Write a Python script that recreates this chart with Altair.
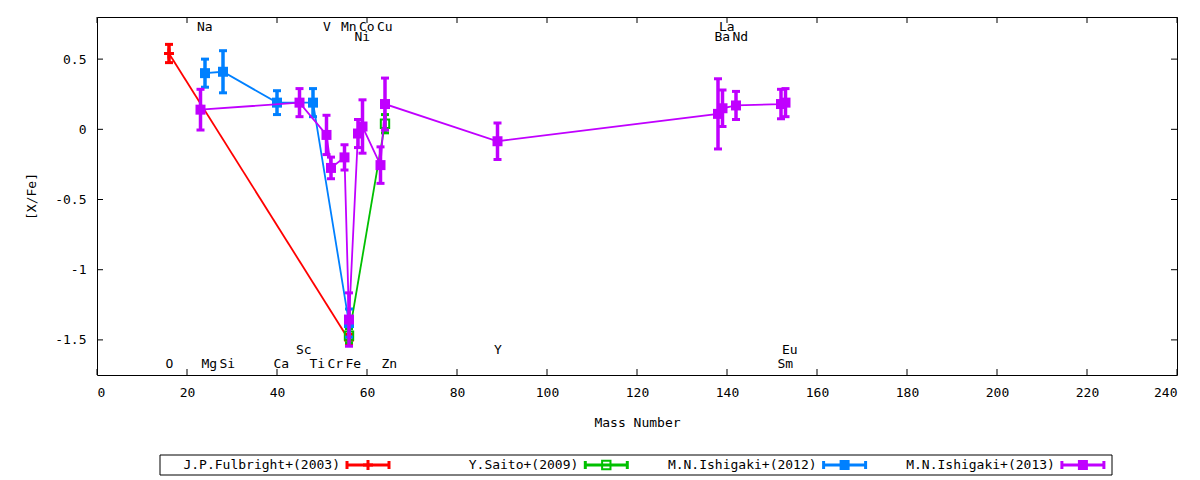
import altair as alt
import pandas as pd

FONT = "DejaVu Sans Mono"

series_names = ["J.P.Fulbright+(2003)", "Y.Saito+(2009)", "M.N.Ishigaki+(2012)", "M.N.Ishigaki+(2013)"]
series_colors = ["#ff0000", "#00c000", "#0080ff", "#c000ff"]

fulbright_mass = [16, 56]
fulbright_val = [0.54, -1.50]
fulbright_err = [0.065, 0.04]

saito_mass = [56, 64]
saito_val = [-1.47, 0.04]
saito_err = [0.05, 0.065]

ishigaki12_mass = [24, 28, 40, 48, 56]
ishigaki12_val = [0.40, 0.41, 0.19, 0.19, -1.38]
ishigaki12_err = [0.10, 0.15, 0.085, 0.10, 0.10]

ishigaki13_mass = [23, 45, 51, 52, 55, 56, 58, 59, 63, 64, 89, 138, 139, 142, 152, 153]
ishigaki13_val = [0.14, 0.19, -0.04, -0.275, -0.20, -1.355, -0.03, 0.02, -0.255, 0.18,
                  -0.085, 0.11, 0.15, 0.17, 0.18, 0.19]
ishigaki13_err = [0.145, 0.10, 0.14, 0.077, 0.09, 0.19, 0.10, 0.19, 0.13, 0.185,
                  0.13, 0.25, 0.13, 0.10, 0.105, 0.10]

element_names = ["O", "Na", "Mg", "Si", "Ca", "Sc", "Ti", "V", "Cr", "Mn", "Fe",
                 "Co", "Ni", "Cu", "Zn", "Y", "Ba", "La", "Nd", "Sm", "Eu"]
element_mass = [16, 23, 24, 28, 40, 45, 48, 51, 52, 55, 56,
                59, 58, 63, 64, 89, 138, 139, 142, 152, 153]
element_level = [-1.675, 0.726, -1.675, -1.675, -1.675, -1.573, -1.675, 0.726, -1.675, 0.726, -1.675,
                 0.726, 0.655, 0.726, -1.675, -1.573, 0.655, 0.726, 0.655, -1.675, -1.573]

x_ticks = [0, 20, 40, 60, 80, 100, 120, 140, 160, 180, 200, 220, 240]
y_ticks = [-1.5, -1, -0.5, 0, 0.5]

W, H = 1080, 358

xs = alt.Scale(domain=[0, 240], nice=False, zero=False)
ys = alt.Scale(domain=[-1.75, 0.8], nice=False, zero=False)
x_axis = alt.Axis(values=x_ticks, ticks=False, tickSize=0, domain=False, grid=False,
                  labelPadding=11, titlePadding=17, labelFont=FONT, labelFontSize=13,
                  titleFont=FONT, titleFontSize=13, titleFontWeight="normal",
                  labelColor="black", titleColor="black")
y_axis = alt.Axis(values=y_ticks, ticks=False, tickSize=0, domain=False, grid=False,
                  labelPadding=11, titlePadding=16, labelFont=FONT, labelFontSize=13,
                  titleFont=FONT, titleFontSize=13, titleFontWeight="normal",
                  labelColor="black", titleColor="black", labelExpr="datum.value + ''")


def X(field):
    return alt.X(field, type="quantitative", scale=xs, axis=x_axis, title="Mass Number")


def Y(field):
    return alt.Y(field, type="quantitative", scale=ys, axis=y_axis, title="[X/Fe]")


series_data = [
    (fulbright_mass, fulbright_val, fulbright_err),
    (saito_mass, saito_val, saito_err),
    (ishigaki12_mass, ishigaki12_val, ishigaki12_err),
    (ishigaki13_mass, ishigaki13_val, ishigaki13_err),
]

layers = []
for i, (m, v, e) in enumerate(series_data):
    color = series_colors[i]
    df = pd.DataFrame({"mass": m, "val": v,
                       "lo": [a - b for a, b in zip(v, e)],
                       "hi": [a + b for a, b in zip(v, e)]})
    base = alt.Chart(df)
    layers.append(base.mark_line(color=color, strokeWidth=1.8).encode(x=X("mass"), y=Y("val")))
    layers.append(base.mark_rule(color=color, strokeWidth=3.5).encode(
        x=X("mass"), y=Y("lo"), y2=alt.Y2("hi", title="[X/Fe]")))
    layers.append(base.mark_tick(color=color, orient="horizontal", size=8, thickness=3, opacity=1).encode(
        x=X("mass"), y=Y("lo")))
    layers.append(base.mark_tick(color=color, orient="horizontal", size=8, thickness=3, opacity=1).encode(
        x=X("mass"), y=Y("hi")))
    if i == 0:
        pt = base.mark_point(shape="M-1,0H1M0,-1V1", size=100, filled=False, stroke=color,
                             strokeWidth=3, opacity=1)
    elif i == 1:
        pt = base.mark_point(shape="square", size=70, filled=False, stroke=color,
                             strokeWidth=2, opacity=1)
    else:
        pt = base.mark_square(size=100, color=color, opacity=1, strokeWidth=0)
    layers.append(pt.encode(x=X("mass"), y=Y("val")))

# element labels
el_df = pd.DataFrame({"name": element_names, "mass": element_mass, "lev": element_level})
layers.append(alt.Chart(el_df).mark_text(align="left", baseline="middle", dx=-3.5, font=FONT,
                                         fontSize=13, color="black").encode(
    x=X("mass"), y=Y("lev"), text="name:N"))

# inward mirrored ticks
xt = alt.Chart(pd.DataFrame({"t": x_ticks}))
yt = alt.Chart(pd.DataFrame({"t": y_ticks}))
layers.append(xt.mark_rule(color="black", strokeWidth=1).encode(x=X("t"), y=alt.value(H), y2=alt.value(H - 6)))
layers.append(xt.mark_rule(color="black", strokeWidth=1).encode(x=X("t"), y=alt.value(0), y2=alt.value(6)))
layers.append(yt.mark_rule(color="black", strokeWidth=1).encode(y=Y("t"), x=alt.value(0), x2=alt.value(6)))
layers.append(yt.mark_rule(color="black", strokeWidth=1).encode(y=Y("t"), x=alt.value(W - 6), x2=alt.value(W)))

# legend (gnuplot style, below the plot)
one = alt.Chart(pd.DataFrame({"k": [0]}))
LY = 448
layers.append(one.mark_rect(fill="white", fillOpacity=0, stroke="black", strokeWidth=1).encode(
    x=alt.value(63), x2=alt.value(1015), y=alt.value(LY - 10), y2=alt.value(LY + 10)))
for i, name in enumerate(series_names):
    color = series_colors[i]
    x0 = 250 + i * 238.3
    layers.append(one.mark_text(align="right", baseline="middle", font=FONT, fontSize=13,
                                color="black").encode(
        x=alt.value(x0 - 7), y=alt.value(LY), text=alt.value(name)))
    layers.append(one.mark_rule(color=color, strokeWidth=3).encode(
        x=alt.value(x0), x2=alt.value(x0 + 42), y=alt.value(LY)))
    layers.append(one.mark_rule(color=color, strokeWidth=3).encode(
        x=alt.value(x0), y=alt.value(LY - 4), y2=alt.value(LY + 4)))
    layers.append(one.mark_rule(color=color, strokeWidth=3).encode(
        x=alt.value(x0 + 42), y=alt.value(LY - 4), y2=alt.value(LY + 4)))
    if i == 0:
        lp = one.mark_point(shape="M-1,0H1M0,-1V1", size=100, filled=False, stroke=color,
                            strokeWidth=3, opacity=1)
    elif i == 1:
        lp = one.mark_point(shape="square", size=70, filled=False, stroke=color,
                            strokeWidth=2, opacity=1)
    else:
        lp = one.mark_square(size=100, color=color, opacity=1, strokeWidth=0)
    layers.append(lp.encode(x=alt.value(x0 + 21), y=alt.value(LY)))

chart = alt.layer(*layers).properties(
    width=W, height=H,
    autosize=alt.AutoSizeParams(type="none"),
    padding={"left": 89, "top": 9, "right": 15, "bottom": 104},
    background="white",
).configure_view(stroke="black", strokeWidth=1)

chart.save("out.html", embed_options={"renderer": "svg", "actions": False})
